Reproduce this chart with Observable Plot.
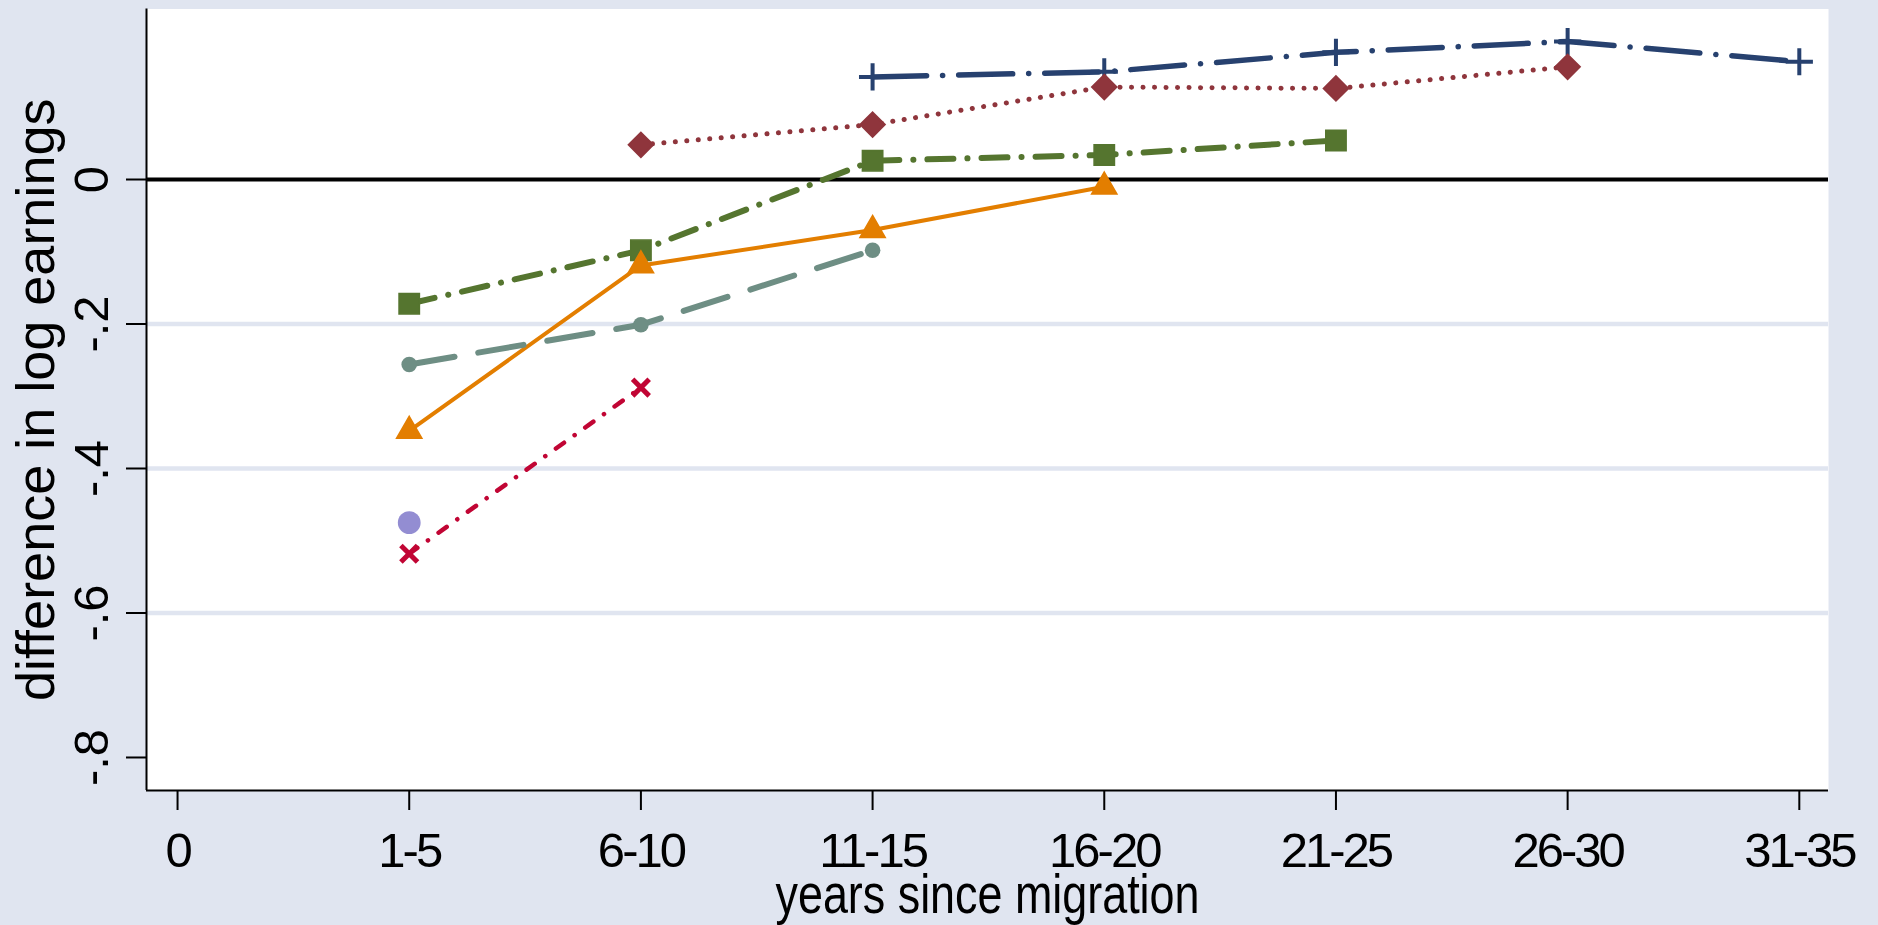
<!DOCTYPE html>
<html>
<head>
<meta charset="utf-8">
<script src="https://cdn.jsdelivr.net/npm/d3@7"></script>
<script src="https://cdn.jsdelivr.net/npm/@observablehq/plot@0.6"></script>
<style>
html, body { margin: 0; padding: 0; background: #E0E5F0; overflow: hidden; }
#chart svg { display: block; }
</style>
</head>
<body>
<div id="chart"></div>
<script>
// ---- data ----
const xLabels = ["0", "1-5", "6-10", "11-15", "16-20", "21-25", "26-30", "31-35"];
const yTicks = [0, -0.2, -0.4, -0.6, -0.8];
const yTickLabels = ["0", "-.2", "-.4", "-.6", "-.8"];
const gridValues = [-0.2, -0.4, -0.6];
const xTitle = "years since migration";
const yTitle = "difference in log earnings";

const navyCats = ["11-15", "16-20", "21-25", "26-30", "31-35"];
const navyVals = [0.142, 0.149, 0.176, 0.191, 0.163];

const maroonCats = ["6-10", "11-15", "16-20", "21-25", "26-30"];
const maroonVals = [0.048, 0.076, 0.128, 0.126, 0.156];

const greenCats = ["1-5", "6-10", "11-15", "16-20", "21-25"];
const greenVals = [-0.172, -0.098, 0.026, 0.034, 0.054];

const orangeCats = ["1-5", "6-10", "11-15", "16-20"];
const orangeVals = [-0.348, -0.119, -0.070, -0.010];

const tealCats = ["1-5", "6-10", "11-15"];
const tealVals = [-0.256, -0.201, -0.098];

const cranberryCats = ["1-5", "6-10"];
const cranberryVals = [-0.518, -0.288];

const lavenderCats = ["1-5"];
const lavenderVals = [-0.475];

// ---- styles ----
const bg = "#E0E5F0";
const xDomain = [-0.134, 7.126];
const yDomain = [-0.8457, 0.236];

const series = [
  {cats: navyCats, vals: navyVals, color: "#27416F", width: 5.5, dash: "54,16,0.1,16", symbol: "plus", r: 8.8, fill: "none", sw: 4},
  {cats: maroonCats, vals: maroonVals, color: "#8F353C", width: 5, dash: "0.1,11.4", symbol: "diamond2", r: 11, fill: "#8F353C", sw: 2},
  {cats: greenCats, vals: greenVals, color: "#55752F", width: 6, dash: "26,14,0.1,14", symbol: "square", r: 11.5, fill: "#55752F", sw: 1.5},
  {cats: orangeCats, vals: orangeVals, color: "#E37E00", width: 4, dash: null, symbol: "triangle", r: 9.4, fill: "#E37E00", sw: 1.5},
  {cats: tealCats, vals: tealVals, color: "#6E8E84", width: 6, dash: "46,24", symbol: "circle", r: 7.8, fill: "#6E8E84", sw: 0},
  {cats: cranberryCats, vals: cranberryVals, color: "#C10534", width: 4.5, dash: "10,13,0.1,13", symbol: "times", r: 7.6, fill: "none", sw: 5},
  {cats: lavenderCats, vals: lavenderVals, color: "#938DD2", width: 4, dash: null, symbol: "circle", r: 11.4, fill: "#938DD2", sw: 0}
];

const marks = [
  Plot.frame({fill: "white", stroke: "none"}),
  Plot.ruleY(gridValues, {stroke: bg, strokeWidth: 4.5}),
  Plot.ruleY([0], {stroke: "black", strokeWidth: 4})
];

for (const s of series) {
  const data = s.cats.map((c, i) => ({x: xLabels.indexOf(c), y: s.vals[i]}));
  if (data.length > 1) {
    marks.push(Plot.line(data, {
      x: "x", y: "y", stroke: s.color, strokeWidth: s.width,
      strokeDasharray: s.dash || undefined, strokeLinecap: "round", strokeLinejoin: "round"
    }));
  }
  marks.push(Plot.dot(data, {
    x: "x", y: "y", symbol: s.symbol, r: s.r,
    fill: s.fill, stroke: s.color, strokeWidth: s.sw
  }));
}

marks.push(
  Plot.ruleX([xDomain[0]], {stroke: "black", strokeWidth: 2}),
  Plot.ruleY([yDomain[0]], {stroke: "black", strokeWidth: 2}),
  Plot.axisY({
    ticks: yTicks,
    tickFormat: d => yTickLabels[yTicks.indexOf(d)],
    tickSize: 20, tickPadding: 19, tickRotate: -90,
    textAnchor: "middle", lineAnchor: "bottom",
    fontSize: 49, strokeWidth: 2, stroke: "black", fill: "black", label: null
  }),
  Plot.axisX({
    ticks: d3.range(xLabels.length),
    tickFormat: i => xLabels[i],
    tickSize: 20, tickPadding: 22,
    fontSize: 49, strokeWidth: 2, stroke: "black", fill: "black", label: null
  }),
  Plot.text([yTitle], {
    frameAnchor: "left", rotate: -90, dx: -93,
    textAnchor: "middle", lineAnchor: "bottom", fontSize: 54, fill: "black"
  }),
  Plot.text([xTitle], {
    frameAnchor: "bottom", dy: 122,
    textAnchor: "middle", lineAnchor: "bottom", fontSize: 56, fill: "black"
  })
);

const chart = Plot.plot({
  width: 1878,
  height: 925,
  marginLeft: 146,
  marginRight: 50,
  marginTop: 8.5,
  marginBottom: 135,
  x: {domain: xDomain},
  y: {domain: yDomain},
  style: {background: bg, fontFamily: "'Liberation Sans', Arial, Helvetica, sans-serif", color: "black"},
  marks
});

document.getElementById("chart").appendChild(chart);

// condensed spacing for the x tick labels and x title, as in the original
d3.select(chart).selectAll('[aria-label="x-axis tick label"] text').style("letter-spacing", "-3px");
d3.select(chart).selectAll('text').filter(function () { return this.textContent === xTitle; })
  .attr("textLength", 424).attr("lengthAdjust", "spacingAndGlyphs");
</script>
</body>
</html>
